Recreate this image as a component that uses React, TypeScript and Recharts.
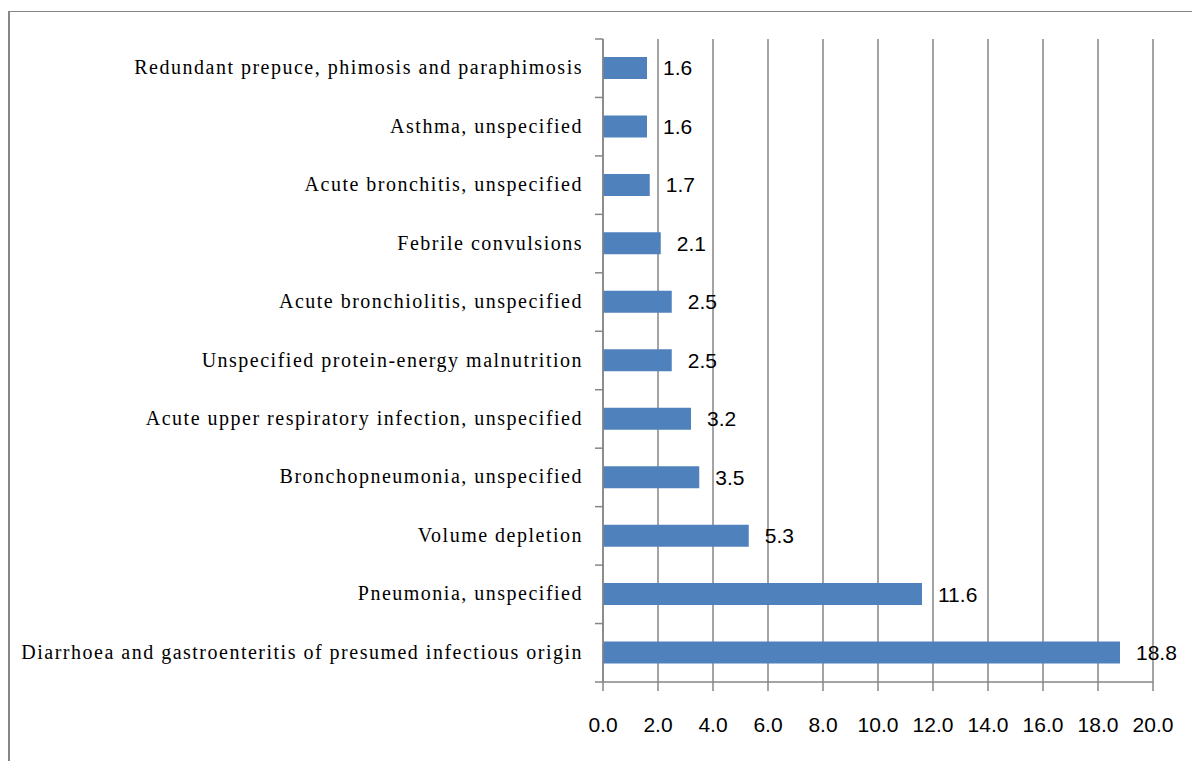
import { Bar, BarChart, CartesianGrid, LabelList, XAxis, YAxis } from "recharts";

const CATEGORIES = [
  "Redundant prepuce, phimosis and paraphimosis",
  "Asthma, unspecified",
  "Acute bronchitis, unspecified",
  "Febrile convulsions",
  "Acute bronchiolitis, unspecified",
  "Unspecified protein-energy malnutrition",
  "Acute upper respiratory infection, unspecified",
  "Bronchopneumonia, unspecified",
  "Volume depletion",
  "Pneumonia, unspecified",
  "Diarrhoea and gastroenteritis of presumed infectious origin",
];

const VALUES = [1.6, 1.6, 1.7, 2.1, 2.5, 2.5, 3.2, 3.5, 5.3, 11.6, 18.8];

const X_TICKS = [0, 2, 4, 6, 8, 10, 12, 14, 16, 18, 20];

const data = CATEGORIES.map((name, i) => ({ name, value: VALUES[i] }));

const GRAY = "#868686";
const BAR = "#4f81bd";

// label plus a short tick mark on the boundary between categories
function CategoryTick({ x, y, payload, index, visibleTicksCount }: any) {
  const half = payload.offset || 0;
  const lx1 = x + 12;
  const lx2 = x + 20;
  return (
    <g>
      <line x1={lx1} x2={lx2} y1={y - half} y2={y - half} stroke={GRAY} strokeWidth={1.5} />
      {index === visibleTicksCount - 1 && (
        <line x1={lx1} x2={lx2} y1={y + half} y2={y + half} stroke={GRAY} strokeWidth={1.5} />
      )}
      <text
        x={x}
        y={y}
        dy="0.3em"
        textAnchor="end"
        fill="#000"
        fontFamily="'Liberation Serif', 'Times New Roman', serif"
        fontSize={20}
        letterSpacing={1.5}
      >
        {payload.value}
      </text>
    </g>
  );
}

export default function App() {
  return (
    <div style={{ position: "absolute", left: 0, top: 0, width: 1192, height: 761, background: "#fff" }}>
      <div
        style={{
          position: "absolute",
          left: 8,
          top: 11,
          width: 1184,
          height: 750,
          borderLeft: `2px solid ${GRAY}`,
          borderTop: `1px solid ${GRAY}`,
          boxSizing: "border-box",
        }}
      />
      <div style={{ position: "absolute", left: 0, top: 0 }}>
        <BarChart
          width={1192}
          height={761}
          data={data}
          layout="vertical"
          margin={{ top: 39, right: 39, bottom: 0, left: 0 }}
          barSize={22}
        >
          <CartesianGrid horizontal={false} stroke={GRAY} strokeWidth={1.5} />
          <XAxis
            type="number"
            domain={[0, 20]}
            ticks={X_TICKS}
            height={79}
            tickFormatter={(v: number) => v.toFixed(1)}
            axisLine={{ stroke: GRAY, strokeWidth: 1.5 }}
            tickLine={{ stroke: GRAY, strokeWidth: 1.5 }}
            tickSize={9}
            tickMargin={26}
            tick={{ fill: "#000", fontSize: 21, fontFamily: "'Liberation Sans', Arial, sans-serif" }}
            interval={0}
          />
          <YAxis
            type="category"
            dataKey="name"
            width={603}
            axisLine={{ stroke: GRAY, strokeWidth: 1.5 }}
            tickLine={false}
            tickSize={0}
            tickMargin={20}
            interval={0}
            tick={<CategoryTick />}
          />
          <Bar dataKey="value" fill={BAR} isAnimationActive={false}>
            <LabelList
              dataKey="value"
              position="right"
              offset={16}
              fill="#000"
              fontSize={21}
              fontFamily="'Liberation Sans', Arial, sans-serif"
              formatter={(v: any) => Number(v).toFixed(1)}
            />
          </Bar>
        </BarChart>
      </div>
    </div>
  );
}
